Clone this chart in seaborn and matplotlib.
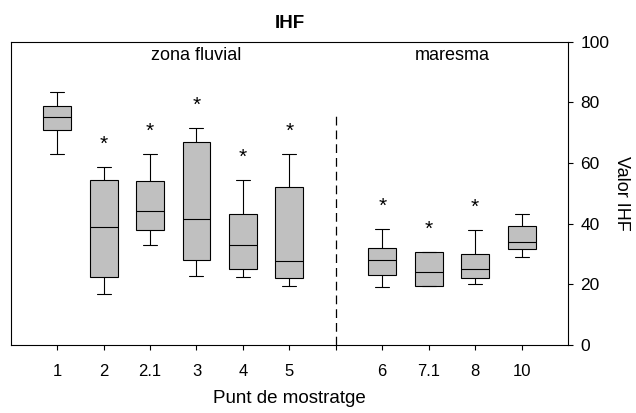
import matplotlib
matplotlib.use("Agg")
import matplotlib.pyplot as plt
import seaborn as sns
import pandas as pd

# ---- data (five-number summaries) ----
sites = ['1', '2', '2.1', '3', '4', '5', '6', '7.1', '8', '10']
zone = ['zona fluvial'] * 6 + ['maresma'] * 4
whisker_low = [63.1, 16.9, 33.0, 22.6, 22.5, 19.5, 19.2, 19.5, 20.0, 29.0]
q1 = [70.8, 22.4, 38.0, 28.0, 25.1, 22.0, 23.0, 19.5, 22.0, 31.5]
median = [75.1, 39.0, 44.1, 41.5, 33.1, 27.7, 28.0, 24.1, 25.0, 34.0]
q3 = [78.9, 54.5, 54.1, 66.8, 43.2, 52.2, 32.0, 30.6, 30.0, 39.1]
whisker_high = [83.3, 58.7, 63.0, 71.4, 54.3, 63.1, 38.1, 30.6, 37.9, 43.1]
significant = [False, True, True, True, True, True, True, True, True, False]

gap_label = ''
order = sites[:6] + [gap_label] + sites[6:]

rows = []
for s, a, b, c, d, e in zip(sites, whisker_low, q1, median, q3, whisker_high):
    for v in (a, b, c, d, e):
        rows.append({'site': s, 'value': v})
df = pd.DataFrame(rows)

sns.set_style('white')
plt.rcParams['font.family'] = ['Liberation Sans', 'DejaVu Sans']
plt.rcParams['text.color'] = 'black'
plt.rcParams['axes.labelcolor'] = 'black'
plt.rcParams['axes.titlecolor'] = 'black'

fig = plt.figure(figsize=(6.36, 4.13), dpi=100)
ax = fig.add_axes([0.0168, 0.1646, 0.8763, 0.7344])

sns.boxplot(data=df, x='site', y='value', order=order, ax=ax,
            color='#c0c0c0', linecolor='black', linewidth=0.8,
            width=0.6, whis=1.5, fliersize=0, saturation=1)

ax.set_xlim(-1, len(order))
ax.set_ylim(0, 100)

# asterisks
for s, hi, sig in zip(sites, whisker_high, significant):
    if sig:
        ax.text(order.index(s), hi + 7.5, '*', ha='center', va='center',
                fontsize=15, color='black')

# dashed separator
gx = order.index(gap_label)
ax.plot([gx, gx], [0, 75.5], color='black', lw=0.9, dashes=(7, 4))

# zone labels
ax.text((0 + gx) / 2, 95.3, 'zona fluvial', ha='center', va='center',
        fontsize=13, color='black')
ax.text((gx + len(order)) / 2, 95.3, 'maresma', ha='center', va='center',
        fontsize=13, color='black')

for sp in ax.spines.values():
    sp.set_visible(True)
    sp.set_color('black')
    sp.set_linewidth(0.8)

ax.yaxis.tick_right()
ax.yaxis.set_label_position('right')
ax.set_yticks([0, 20, 40, 60, 80, 100])
ax.tick_params(axis='y', which='both', left=False, right=True, labelleft=False,
               labelright=True, direction='out', length=3.5, width=0.8,
               pad=5.5, labelsize=12.5, colors='black')
ax.tick_params(axis='x', bottom=True, direction='out', length=3.5, width=0.8,
               pad=10, labelsize=12, colors='black')

ax.set_ylabel('Valor IHF', rotation=270, va='bottom', labelpad=2.5, fontsize=13,
              color='black')
ax.set_xlabel('Punt de mostratge', labelpad=8, fontsize=13.5, color='black')
ax.set_title('IHF', fontweight='bold', fontsize=13.5, pad=10, color='black')

fig.savefig('out.png', dpi=100)
